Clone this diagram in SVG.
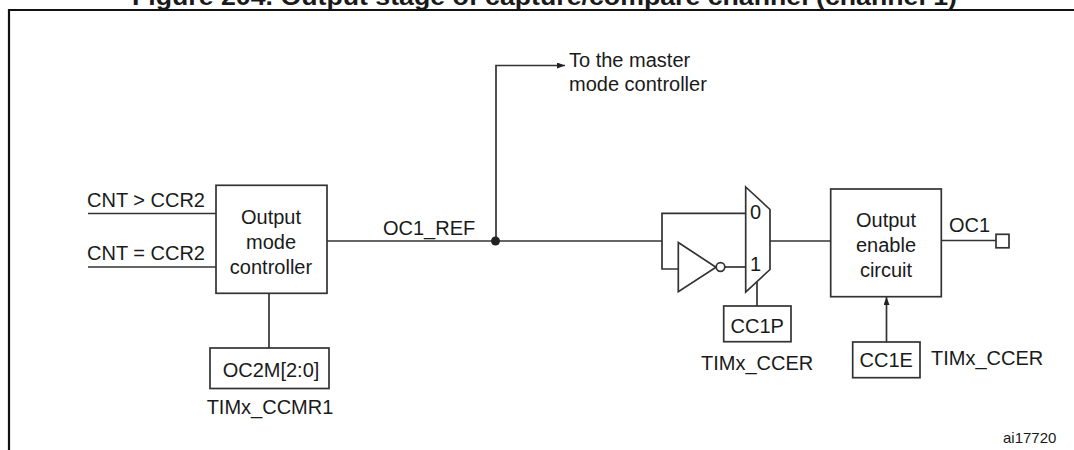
<svg xmlns="http://www.w3.org/2000/svg" width="1074" height="450" viewBox="0 0 1074 450">
<style>
text{font-family:"Liberation Sans",Arial,sans-serif;font-size:20px;fill:#1a1a1a}
.t{font-weight:bold;font-size:24px}
.c{text-anchor:middle}
.s{font-size:15px}
.box{fill:#fff;stroke:#333;stroke-width:1.7}
.w{fill:none;stroke:#333;stroke-width:1.7}
</style>
<defs>
<marker id="arr" markerUnits="userSpaceOnUse" markerWidth="9" markerHeight="7" refX="8" refY="3" orient="auto">
<path d="M0,0 L8,3 L0,6 z" fill="#222"/>
</marker>
</defs>
<rect width="1074" height="450" fill="#fff"/>
<text class="t" x="132" y="5" textLength="825" lengthAdjust="spacingAndGlyphs">Figure 204. Output stage of capture/compare channel (channel 1)</text>
<path d="M9,460 V10 H1090" fill="none" stroke="#111" stroke-width="2.2"/>

<g id="connectors">
<path class="w" d="M88,213.5 H216"/>
<path class="w" d="M88,267 H216"/>
<path class="w" d="M327,241 H662"/>
<path class="w" d="M269,293 V348"/>
<path class="w" d="M496,241 V65.5 H565" marker-end="url(#arr)"/>
<path class="w" d="M662,241 V213.3 H746"/>
<path class="w" d="M662,241 V269 H678"/>
<path class="w" d="M725,267 H746"/>
<path class="w" d="M770,241 H831"/>
<path class="w" d="M757,281.5 V306"/>
<path class="w" d="M941,240.5 H996"/>
<path class="w" d="M886.5,342 V297" marker-end="url(#arr)"/>
</g>

<g id="junction"><circle cx="495.5" cy="241" r="4.5" fill="#222"/></g>

<g id="inputs">
<text x="87" y="207">CNT &gt; CCR2</text>
<text x="87" y="259.5">CNT = CCR2</text>
</g>

<g id="output-mode-controller">
<rect class="box" x="216" y="185.3" width="111" height="108"/>
<text class="c" x="271" y="224">Output</text>
<text class="c" x="271" y="249">mode</text>
<text class="c" x="271" y="274">controller</text>
</g>

<g id="oc1ref-label"><text x="383" y="235">OC1_REF</text></g>

<g id="master-label">
<text x="569" y="67">To the master</text>
<text x="569" y="91">mode controller</text>
</g>

<g id="oc2m">
<rect class="box" x="210" y="348" width="119" height="40.5"/>
<text class="c" x="271" y="377">OC2M[2:0]</text>
<text class="c" x="270" y="413.5">TIMx_CCMR1</text>
</g>

<g id="inverter">
<path class="box" d="M678.3,242.5 L716,267.2 L678.3,291.8 z"/>
<circle class="box" cx="720.5" cy="267" r="4.3"/>
</g>

<g id="mux">
<path class="box" d="M745.7,187 L770,209.5 L770,269.5 L745.7,292 z"/>
<text x="750" y="219">0</text>
<text x="750" y="271">1</text>
</g>

<g id="cc1p">
<rect class="box" x="723.7" y="306" width="67.3" height="35.7"/>
<text class="c" x="757.3" y="333">CC1P</text>
<text x="701" y="370">TIMx_CCER</text>
</g>

<g id="output-enable-circuit">
<rect class="box" x="830.7" y="189" width="110.6" height="107.7"/>
<text class="c" x="886" y="227">Output</text>
<text class="c" x="886" y="252">enable</text>
<text class="c" x="886" y="277">circuit</text>
</g>

<g id="oc1-pin">
<rect class="box" x="996" y="234.3" width="13" height="13.5"/>
<text x="949" y="232">OC1</text>
</g>

<g id="cc1e">
<rect class="box" x="852.7" y="342" width="67.3" height="35.7"/>
<text class="c" x="886.3" y="367">CC1E</text>
<text x="931" y="365">TIMx_CCER</text>
</g>

<text class="s" x="1003" y="443">ai17720</text>
</svg>
